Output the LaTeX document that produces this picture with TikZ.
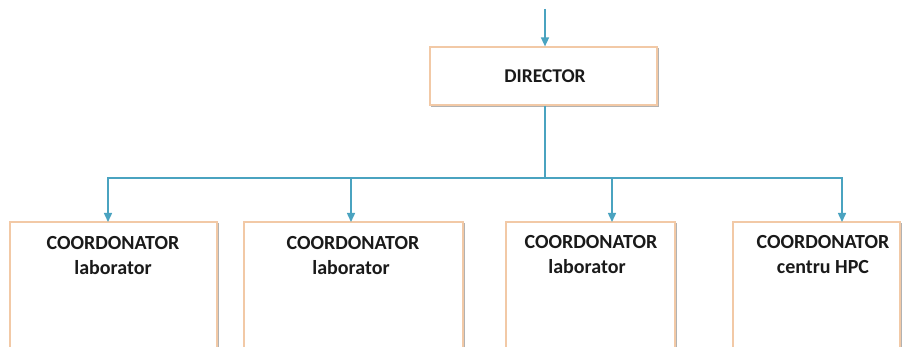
\documentclass[tikz,border=0pt]{standalone}
\usepackage{fontspec}
\setmainfont{Carlito}
\usetikzlibrary{arrows.meta}
\definecolor{lineblue}{HTML}{4AA3C0}
\definecolor{peach}{HTML}{F2C9A6}
\definecolor{txt}{HTML}{1A1A1A}
\tikzset{
  x=1pt,y=1pt,
  orgbox/.style={draw=peach, line width=1.2pt, fill=white, inner sep=0pt, minimum height=#1},
  shadowed/.style={preaction={draw=black!30, line width=1.4pt, transform canvas={xshift=1.5pt,yshift=-1.5pt}}},
  conn/.style={draw=lineblue, line width=1.5pt},
  arr/.style={conn, -{Triangle[width=8pt,length=9pt]}},
  lbl/.style={font=\bfseries\fontsize{20}{24}\selectfont, text=txt, anchor=base, inner sep=0pt},
  dlbl/.style={font=\bfseries\fontsize{19.5}{24}\selectfont, text=txt, anchor=base, inner sep=0pt}
}
\begin{document}
\begin{tikzpicture}
\useasboundingbox (0,0) rectangle (902,347);
\clip (0,0) rectangle (902,347);
\fill[white] (0,0) rectangle (902,347);
% director
\node[orgbox=58pt, shadowed, minimum width=227pt] (dir) at (543.5,271) {};
\node[dlbl] (dirt) at (545,264) {DIRECTOR};
% bottom boxes
\node[orgbox=135pt, shadowed, minimum width=207pt] (b1) at (113.5,57.5) {};
\node[orgbox=135pt, shadowed, minimum width=219pt] (b2) at (353.5,57.5) {};
\node[orgbox=135pt, shadowed, minimum width=169pt] (b3) at (590.5,57.5) {};
\node[orgbox=135pt, shadowed, minimum width=167pt] (b4) at (816.5,57.5) {};
\node[lbl] (t1a) at (113,97) {COORDONATOR};
\node[lbl] (t1b) at (113,72) {laborator};
\node[lbl] (t2a) at (353,97) {COORDONATOR};
\node[lbl] (t2b) at (351,72) {laborator};
\node[lbl] (t3a) at (591,98) {COORDONATOR};
\node[lbl] (t3b) at (587,73) {laborator};
\node[lbl] (t4a) at (823,98) {COORDONATOR};
\node[lbl] (t4b) at (823,73) {centru HPC};
% connectors
\coordinate (top) at (545,338);
\coordinate (j) at (545,169);
\coordinate (d1) at (108,125);
\coordinate (d2) at (351,125);
\coordinate (d3) at (612,125);
\coordinate (d4) at (842,125);
\draw[arr] (top) -- (dir.north -| top);
\draw[conn] (dir.south -| j) -- (j);
\draw[arr] (j) -| (d1);
\draw[arr] (j) -| (d2);
\draw[arr] (j) -| (d3);
\draw[arr] (j) -| (d4);
\end{tikzpicture}
\end{document}
